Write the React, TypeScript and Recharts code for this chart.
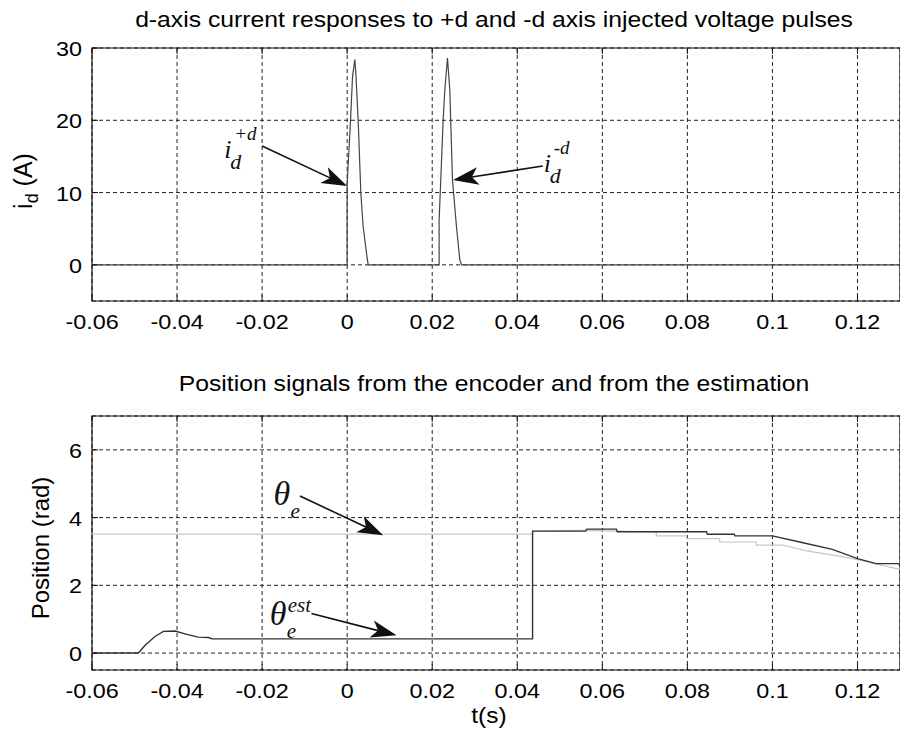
import React from 'react';
import { LineChart, Line, XAxis, YAxis, CartesianGrid, ReferenceLine, ReferenceDot, ReferenceArea } from 'recharts';

// ---------- data ----------
const X_TICKS = [-0.06, -0.04, -0.02, 0, 0.02, 0.04, 0.06, 0.08, 0.1, 0.12];
const X_TICK_LABELS = ['-0.06', '-0.04', '-0.02', '0', '0.02', '0.04', '0.06', '0.08', '0.1', '0.12'];
const X_DOMAIN: [number, number] = [-0.06, 0.13];

const ID_TICKS = [0, 10, 20, 30];
const ID_DOMAIN: [number, number] = [-5, 30];
const POS_TICKS = [0, 2, 4, 6];
const POS_DOMAIN: [number, number] = [-0.5, 7];

// d-axis current (A) vs time (s)
const idTime = [-0.06, 0.0, 0.0, 0.0008, 0.00126, 0.0018, 0.00204, 0.00259, 0.00322, 0.00376, 0.00455, 0.00494,
  0.02163, 0.02163, 0.02257, 0.02296, 0.02359, 0.02414, 0.02476, 0.0257, 0.02649, 0.02688, 0.13];
const idValue = [0, 0, 11.3, 20.0, 26.0, 28.4, 26.5, 20.0, 9.9, 5.3, 1.6, 0,
  0, 6.2, 20.0, 24.2, 28.6, 24.2, 11.8, 5.3, 0.7, 0, 0];

// encoder position (rad)
const encTime = [-0.06, 0.0436, 0.0436, 0.056, 0.0633, 0.0727, 0.0727, 0.0798, 0.0798, 0.0876, 0.0876, 0.0962, 0.0962, 0.1024, 0.108, 0.1158, 0.1205, 0.13];
const encValue = [3.51, 3.51, 3.6, 3.62, 3.6, 3.58, 3.46, 3.46, 3.38, 3.38, 3.28, 3.28, 3.19, 3.19, 3.02, 2.86, 2.74, 2.47];

// estimated position (rad)
const estTime = [-0.06, -0.0491, -0.0475, -0.0452, -0.0432, -0.0405, -0.0377, -0.035, -0.0326, -0.0318, 0.0436, 0.0436,
  0.0561, 0.0563, 0.0633, 0.0635, 0.0845, 0.0847, 0.091, 0.0912, 0.1, 0.1064, 0.1141, 0.12, 0.1244, 0.1295, 0.13];
const estValue = [0, 0, 0.23, 0.49, 0.64, 0.65, 0.55, 0.47, 0.46, 0.42, 0.42, 3.6,
  3.6, 3.66, 3.66, 3.58, 3.58, 3.51, 3.51, 3.46, 3.46, 3.28, 3.06, 2.79, 2.64, 2.64, 2.6];

// annotation anchors (data coordinates)
const ID_LABEL_PLUS = { t: -0.0289, v: 14.8 };
const ID_LABEL_MINUS = { t: 0.0462, v: 12.85 };
const ID_ARROW_PLUS = [{ t: -0.0200, v: 16.45 }, { t: 0.0, v: 10.91 }];
const ID_ARROW_MINUS = [{ t: 0.0460, v: 13.68 }, { t: 0.0249, v: 11.74 }];
const POS_LABEL_ENC = { t: -0.0173, v: 4.37 };
const POS_LABEL_EST = { t: -0.0182, v: 0.82 };
const POS_ARROW_ENC = [{ t: -0.0111, v: 4.636 }, { t: 0.00846, v: 3.482 }];
const POS_ARROW_EST = [{ t: -0.0084, v: 1.166 }, { t: 0.0116, v: 0.524 }];

const idData = idTime.map((t, i) => ({ t, v: idValue[i] }));
const encData = encTime.map((t, i) => ({ t, v: encValue[i] }));
const estData = estTime.map((t, i) => ({ t, v: estValue[i] }));

// ---------- styling helpers ----------
const SANS = '"Liberation Sans", Arial, Helvetica, sans-serif';
const SERIF = '"Liberation Serif", "Times New Roman", serif';
const SX = 1.14;
const TOP_PLOT_H = 253;
const BOT_PLOT_H = 254;

const XTick = (props: any) => {
  const { x, y, payload, plotH } = props;
  const idx = X_TICKS.indexOf(payload.value);
  const label = idx >= 0 ? X_TICK_LABELS[idx] : String(payload.value);
  return (
    <g>
      <line x1={x} y1={y} x2={x} y2={y - 6} stroke="#111" strokeWidth={1} />
      <line x1={x} y1={y - plotH} x2={x} y2={y - plotH + 6} stroke="#111" strokeWidth={1} />
      <g transform={`translate(${x},${y}) scale(${SX},1)`}>
        <text x={0} y={28.5} textAnchor="middle" fontSize={20.5} fontFamily={SANS} fill="#000">{label}</text>
      </g>
    </g>
  );
};

const YTick = (props: any) => {
  const { x, y, payload } = props;
  return (
    <g>
      <line x1={x} y1={y} x2={x + 6} y2={y} stroke="#111" strokeWidth={1} />
      <g transform={`translate(${x - 10},${y}) scale(${SX},1)`}>
        <text x={0} y={8} textAnchor="end" fontSize={20.5} fontFamily={SANS} fill="#000">{payload.value}</text>
      </g>
    </g>
  );
};

const arrowShape = (props: any) => {
  const { x1, y1, x2, y2 } = props;
  const ang = Math.atan2(y2 - y1, x2 - x1);
  const L = 27;
  const half = (19 * Math.PI) / 180;
  const notch = 19;
  const bx1 = x2 - L * Math.cos(ang - half);
  const by1 = y2 - L * Math.sin(ang - half);
  const bx2 = x2 - L * Math.cos(ang + half);
  const by2 = y2 - L * Math.sin(ang + half);
  const nx = x2 - notch * Math.cos(ang);
  const ny = y2 - notch * Math.sin(ang);
  return (
    <g>
      <line x1={x1} y1={y1} x2={nx} y2={ny} stroke="#111" strokeWidth={1.6} />
      <polygon points={`${x2},${y2} ${bx1},${by1} ${nx},${ny} ${bx2},${by2}`} fill="#111" />
    </g>
  );
};

const iLabel = (sup: string) => (props: any) => {
  const { cx, cy } = props;
  return (
    <text x={cx} y={cy} fontFamily={SERIF} fontStyle="italic" fill="#111" fontSize={26}>
      <tspan>i</tspan>
      <tspan x={cx + 10} y={cy - 18} fontSize={19}>{sup}</tspan>
      <tspan x={cx + 6} y={cy + 11} fontSize={22}>d</tspan>
    </text>
  );
};

const thetaLabel = (sup: string) => (props: any) => {
  const { cx, cy } = props;
  return (
    <text x={cx} y={cy} fontFamily={SERIF} fontStyle="italic" fill="#111" fontSize={34}>
      <tspan>θ</tspan>
      {sup ? <tspan x={cx + 18} y={cy - 13} fontSize={21}>{sup}</tspan> : null}
      <tspan x={cx + 17} y={cy + 13} fontSize={21}>e</tspan>
    </text>
  );
};

const W = 900;
const TOP_H = 340;
const BOT_TOP = 340;
const BOT_H = 399;

export default function App() {
  return (
    <div style={{ position: 'absolute', left: 0, top: 0, width: W, height: 739, background: '#fff', overflow: 'hidden' }}>
      <div style={{ position: 'absolute', left: 0, top: 0 }}>
        <LineChart width={W} height={TOP_H} data={idData} margin={{ top: 48, right: 0, bottom: 0, left: 0 }}>
          <CartesianGrid stroke="#222" strokeDasharray="4 3" strokeWidth={1} />
          <XAxis dataKey="t" type="number" domain={X_DOMAIN} ticks={X_TICKS} allowDataOverflow height={39}
            tickLine={false} tickSize={0} tickMargin={0} axisLine={false} tick={<XTick plotH={TOP_PLOT_H} />} interval={0} />
          <YAxis type="number" domain={ID_DOMAIN} ticks={ID_TICKS} allowDataOverflow width={92}
            tickLine={false} tickSize={0} tickMargin={0} axisLine={false} tick={<YTick />} interval={0} />
          <ReferenceArea x1={X_DOMAIN[0]} x2={X_DOMAIN[1]} y1={ID_DOMAIN[0]} y2={ID_DOMAIN[1]} fill="none" fillOpacity={0} stroke="#111" strokeWidth={1.2} ifOverflow="visible" />
          <Line dataKey="v" type="linear" dot={false} stroke="#444" strokeWidth={1.2} isAnimationActive={false} />
          <ReferenceLine segment={[{ x: ID_ARROW_PLUS[0].t, y: ID_ARROW_PLUS[0].v }, { x: ID_ARROW_PLUS[1].t, y: ID_ARROW_PLUS[1].v }]} shape={arrowShape} ifOverflow="visible" />
          <ReferenceLine segment={[{ x: ID_ARROW_MINUS[0].t, y: ID_ARROW_MINUS[0].v }, { x: ID_ARROW_MINUS[1].t, y: ID_ARROW_MINUS[1].v }]} shape={arrowShape} ifOverflow="visible" />
          <ReferenceDot x={ID_LABEL_PLUS.t} y={ID_LABEL_PLUS.v} r={0} shape={iLabel('+d')} ifOverflow="visible" />
          <ReferenceDot x={ID_LABEL_MINUS.t} y={ID_LABEL_MINUS.v} r={0} shape={iLabel('-d')} ifOverflow="visible" />
        </LineChart>
      </div>
      <div style={{ position: 'absolute', left: 0, top: BOT_TOP }}>
        <LineChart width={W} height={BOT_H} margin={{ top: 76, right: 0, bottom: 0, left: 0 }}>
          <CartesianGrid stroke="#222" strokeDasharray="4 3" strokeWidth={1} />
          <XAxis dataKey="t" type="number" domain={X_DOMAIN} ticks={X_TICKS} allowDataOverflow height={69}
            tickLine={false} tickSize={0} tickMargin={0} axisLine={false} tick={<XTick plotH={BOT_PLOT_H} />} interval={0} />
          <YAxis type="number" domain={POS_DOMAIN} ticks={POS_TICKS} allowDataOverflow width={92}
            tickLine={false} tickSize={0} tickMargin={0} axisLine={false} tick={<YTick />} interval={0} />
          <ReferenceArea x1={X_DOMAIN[0]} x2={X_DOMAIN[1]} y1={POS_DOMAIN[0]} y2={POS_DOMAIN[1]} fill="none" fillOpacity={0} stroke="#111" strokeWidth={1.2} ifOverflow="visible" />
          <Line data={encData} dataKey="v" type="linear" dot={false} stroke="#c6c6c6" strokeWidth={1.2} isAnimationActive={false} />
          <Line data={estData} dataKey="v" type="linear" dot={false} stroke="#333" strokeWidth={1.4} isAnimationActive={false} />
          <ReferenceLine segment={[{ x: POS_ARROW_ENC[0].t, y: POS_ARROW_ENC[0].v }, { x: POS_ARROW_ENC[1].t, y: POS_ARROW_ENC[1].v }]} shape={arrowShape} ifOverflow="visible" />
          <ReferenceLine segment={[{ x: POS_ARROW_EST[0].t, y: POS_ARROW_EST[0].v }, { x: POS_ARROW_EST[1].t, y: POS_ARROW_EST[1].v }]} shape={arrowShape} ifOverflow="visible" />
          <ReferenceDot x={POS_LABEL_ENC.t} y={POS_LABEL_ENC.v} r={0} shape={thetaLabel('')} ifOverflow="visible" />
          <ReferenceDot x={POS_LABEL_EST.t} y={POS_LABEL_EST.v} r={0} shape={thetaLabel('est')} ifOverflow="visible" />
        </LineChart>
      </div>
      <svg width={W} height={739} style={{ position: 'absolute', left: 0, top: 0, pointerEvents: 'none' }}>
        <g transform={`translate(494,26.5) scale(1.15,1)`}>
          <text x={0} y={0} textAnchor="middle" fontSize={21.5} fontFamily={SANS} fill="#000">
            d-axis current responses to +d and -d axis injected voltage pulses
          </text>
        </g>
        <g transform={`translate(494,390.5) scale(1.15,1)`}>
          <text x={0} y={0} textAnchor="middle" fontSize={21.5} fontFamily={SANS} fill="#000">
            Position signals from the encoder and from the estimation
          </text>
        </g>
        <g transform={`translate(489,723) scale(${SX},1)`}>
          <text x={0} y={0} textAnchor="middle" fontSize={21.5} fontFamily={SANS} fill="#000">t(s)</text>
        </g>
        <g transform="translate(32,181) rotate(-90)">
          <text x={0} y={0} textAnchor="middle" fontSize={25} fontFamily={SANS} fill="#000">
            i<tspan dy={6} fontSize={18}>d</tspan><tspan dy={-6}> (A)</tspan>
          </text>
        </g>
        <g transform="translate(49,548) rotate(-90)">
          <text x={0} y={0} textAnchor="middle" fontSize={24} fontFamily={SANS} fill="#000">Position (rad)</text>
        </g>
      </svg>
    </div>
  );
}
